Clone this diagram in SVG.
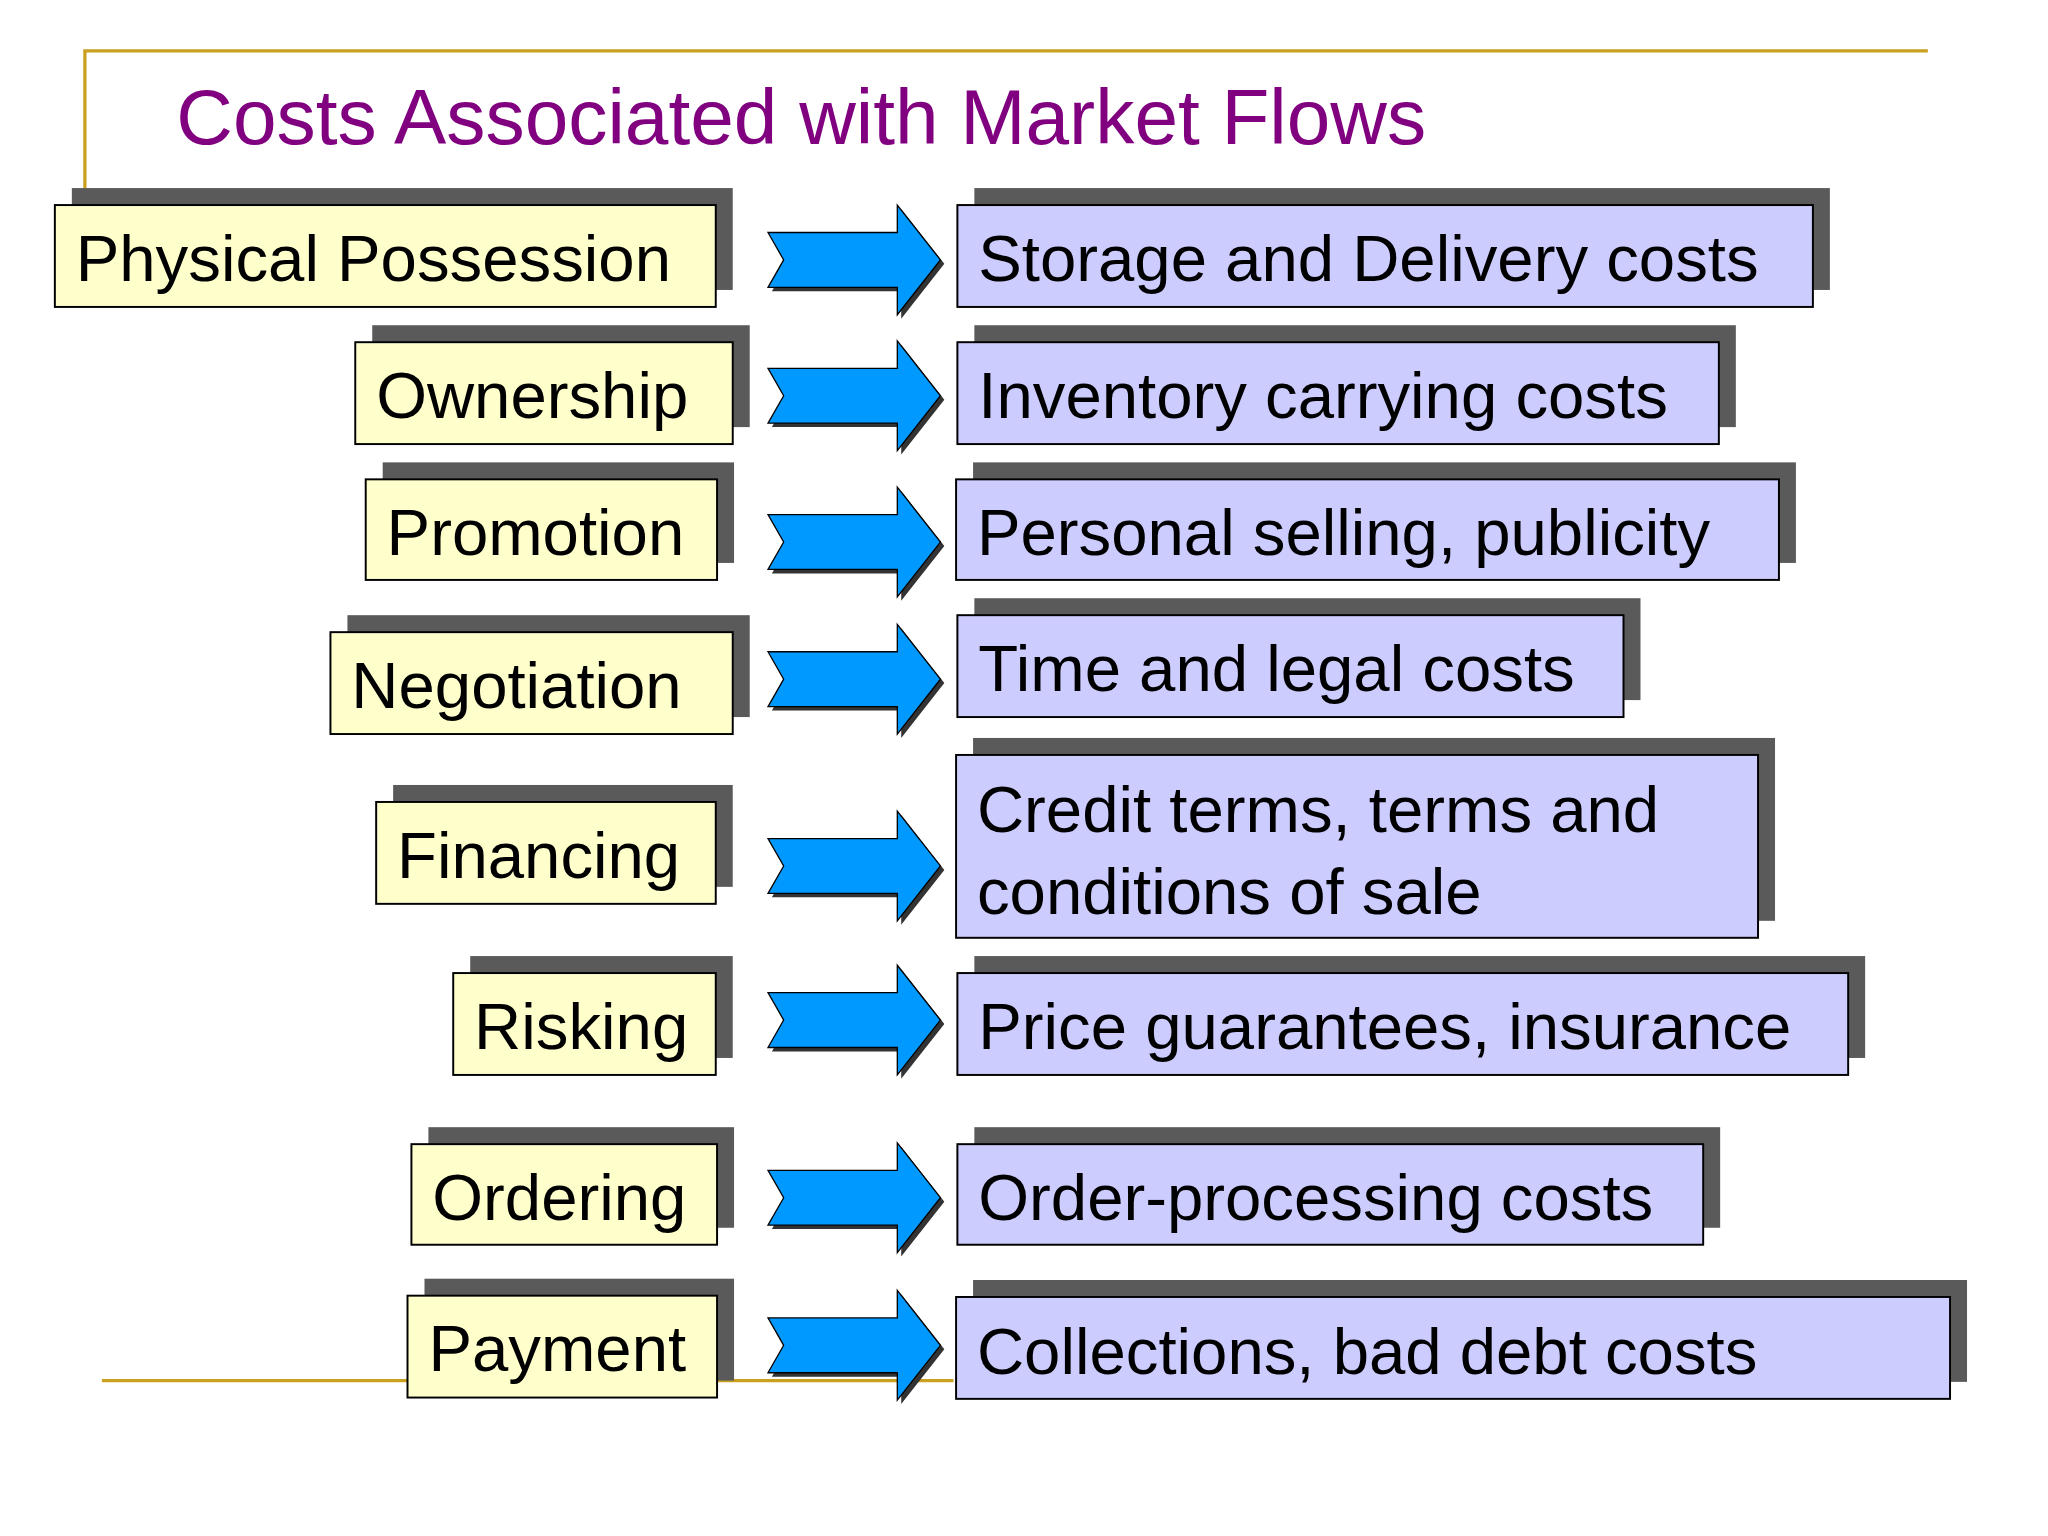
<svg xmlns="http://www.w3.org/2000/svg" width="2048" height="1536" viewBox="0 0 2048 1536">
<style>
.sh{fill:#5a5a5a}
.l{fill:#ffffcc;stroke:#000;stroke-width:1.5}
.r{fill:#ccccff;stroke:#000;stroke-width:1.5}
.t{font-family:"Liberation Sans",Arial,sans-serif;font-size:50px;fill:#000}
.ar{fill:#0099ff;stroke:#000;stroke-width:1}
.as{fill:#333}
</style>
<defs>
<g id="arr">
<polygon class="as" points="591,-18 690,-18 690,-39 723,3 690,45 690,24 591,24 603,3"/>
<polygon class="ar" points="588,-21 687,-21 687,-42 720,0 687,42 687,21 588,21 600,0"/>
</g>
</defs>
<rect width="2048" height="1536" fill="#fff"/>
<g transform="scale(1.30612)">
<g id="frame" fill="none" stroke="#c9a020" stroke-width="2.5">
<polyline points="65,145 65,39 1476,39"/>
<line x1="78" y1="1057" x2="730" y2="1057"/>
</g>
<text id="title" x="135" y="110" font-family="'Liberation Sans',Arial,sans-serif" font-size="60" fill="#800080">Costs Associated with Market Flows</text>
<g id="connectors">
<use href="#arr" y="199"/><use href="#arr" y="303"/><use href="#arr" y="415"/><use href="#arr" y="520"/>
<use href="#arr" y="663"/><use href="#arr" y="781"/><use href="#arr" y="917"/><use href="#arr" y="1030"/>
</g>
<g id="n1"><rect class="sh" x="55" y="144" width="506" height="78"/><rect class="l" x="42" y="157" width="506" height="78"/><text class="t" x="58" y="215">Physical Possession</text></g>
<g id="n2"><rect class="sh" x="285" y="249" width="289" height="78"/><rect class="l" x="272" y="262" width="289" height="78"/><text class="t" x="288" y="320">Ownership</text></g>
<g id="n3"><rect class="sh" x="293" y="354" width="269" height="77"/><rect class="l" x="280" y="367" width="269" height="77"/><text class="t" x="296" y="425">Promotion</text></g>
<g id="n4"><rect class="sh" x="266" y="471" width="308" height="78"/><rect class="l" x="253" y="484" width="308" height="78"/><text class="t" x="269" y="542">Negotiation</text></g>
<g id="n5"><rect class="sh" x="301" y="601" width="260" height="78"/><rect class="l" x="288" y="614" width="260" height="78"/><text class="t" x="304" y="672">Financing</text></g>
<g id="n6"><rect class="sh" x="360" y="732" width="201" height="78"/><rect class="l" x="347" y="745" width="201" height="78"/><text class="t" x="363" y="803">Risking</text></g>
<g id="n7"><rect class="sh" x="328" y="863" width="234" height="77"/><rect class="l" x="315" y="876" width="234" height="77"/><text class="t" x="331" y="934">Ordering</text></g>
<g id="n8"><rect class="sh" x="325" y="979" width="237" height="78"/><rect class="l" x="312" y="992" width="237" height="78"/><text class="t" x="328" y="1050">Payment</text></g>
<g id="m1"><rect class="sh" x="746" y="144" width="655" height="78"/><rect class="r" x="733" y="157" width="655" height="78"/><text class="t" x="749" y="215">Storage and Delivery costs</text></g>
<g id="m2"><rect class="sh" x="746" y="249" width="583" height="78"/><rect class="r" x="733" y="262" width="583" height="78"/><text class="t" x="749" y="320">Inventory carrying costs</text></g>
<g id="m3"><rect class="sh" x="745" y="354" width="630" height="77"/><rect class="r" x="732" y="367" width="630" height="77"/><text class="t" x="748" y="425">Personal selling, publicity</text></g>
<g id="m4"><rect class="sh" x="746" y="458" width="510" height="78"/><rect class="r" x="733" y="471" width="510" height="78"/><text class="t" x="749" y="529">Time and legal costs</text></g>
<g id="m5"><rect class="sh" x="745" y="565" width="614" height="140"/><rect class="r" x="732" y="578" width="614" height="140"/><text class="t" x="748" y="637">Credit terms, terms and</text><text class="t" x="748" y="700">conditions of sale</text></g>
<g id="m6"><rect class="sh" x="746" y="732" width="682" height="78"/><rect class="r" x="733" y="745" width="682" height="78"/><text class="t" x="749" y="803">Price guarantees, insurance</text></g>
<g id="m7"><rect class="sh" x="746" y="863" width="571" height="77"/><rect class="r" x="733" y="876" width="571" height="77"/><text class="t" x="749" y="934">Order-processing costs</text></g>
<g id="m8"><rect class="sh" x="745" y="980" width="761" height="78"/><rect class="r" x="732" y="993" width="761" height="78"/><text class="t" x="748" y="1052">Collections, bad debt costs</text></g>
</g>
</svg>
